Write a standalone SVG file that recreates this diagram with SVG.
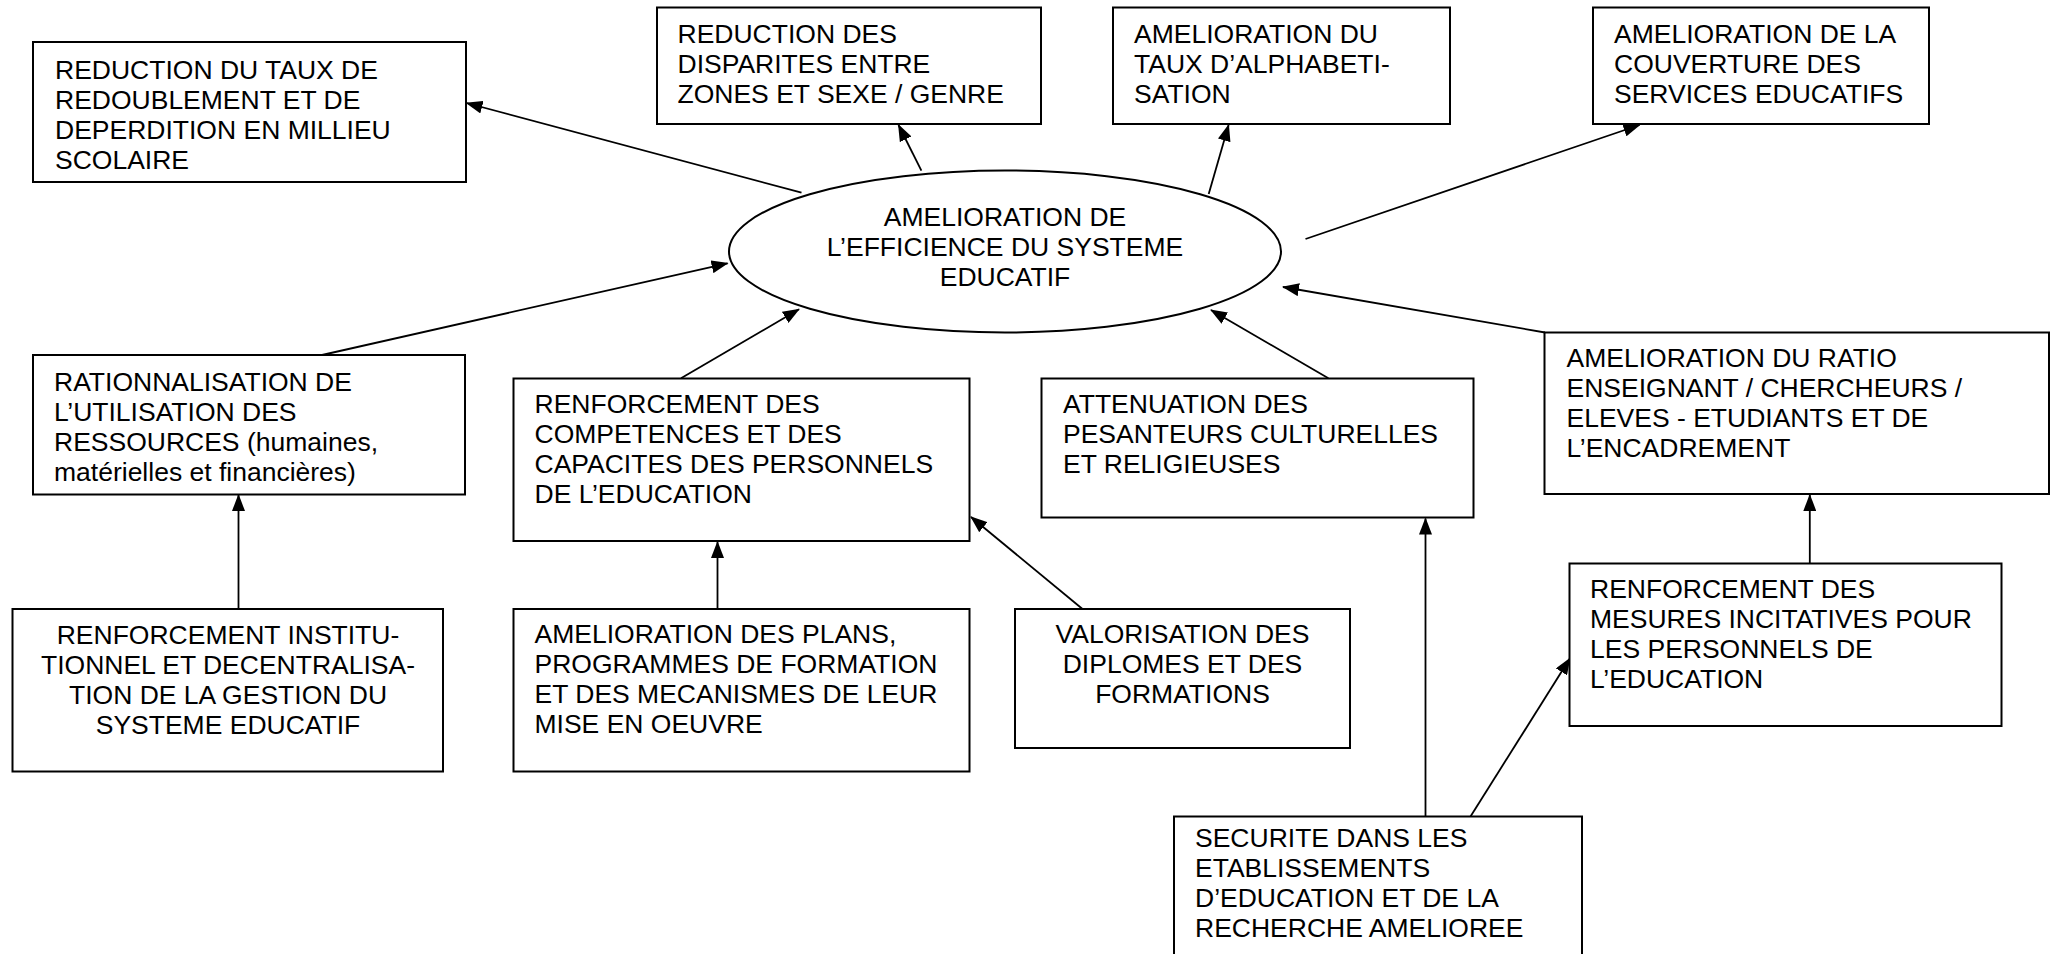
<svg xmlns="http://www.w3.org/2000/svg" width="2055" height="954" viewBox="0 0 2055 954">
<style>
.box{fill:#fff;stroke:#000;stroke-width:2}
.t{font-family:"Liberation Sans",Arial,sans-serif;font-size:26.5px;fill:#000}
.c{text-anchor:middle}
.ln{stroke:#000;stroke-width:1.8;fill:none;marker-end:url(#ah)}
</style>
<defs>
<marker id="ah" markerUnits="userSpaceOnUse" markerWidth="17" markerHeight="13" viewBox="0 0 17 13" refX="16" refY="6.5" orient="auto">
<path d="M0,0 L17,6.5 L0,13 z" fill="#000"/>
</marker>
</defs>
<rect width="2055" height="954" fill="#fff"/>
<g id="connectors">
<line class="ln" x1="801.5" y1="192.7" x2="466.5" y2="103"/>
<line class="ln" x1="921.4" y1="170.7" x2="898.5" y2="125"/>
<line class="ln" x1="1208.7" y1="194" x2="1228.6" y2="125"/>
<line class="ln" x1="1305.5" y1="239" x2="1639.5" y2="125"/>
<line class="ln" x1="1545" y1="332.5" x2="1283" y2="287"/>
<line class="ln" x1="1328.4" y1="378.3" x2="1211" y2="310"/>
<line class="ln" x1="681" y1="378.3" x2="799" y2="309.3"/>
<line class="ln" x1="322" y1="355" x2="727.6" y2="263.3"/>
<line class="ln" x1="238.5" y1="609" x2="238.5" y2="495"/>
<line class="ln" x1="717.5" y1="609" x2="717.5" y2="542"/>
<line class="ln" x1="1082.5" y1="609" x2="971" y2="517"/>
<line class="ln" x1="1425.5" y1="816.5" x2="1425.5" y2="518.5"/>
<line class="ln" x1="1470.5" y1="816.5" x2="1570" y2="658.3"/>
<line class="ln" x1="1809.8" y1="563.5" x2="1809.8" y2="495"/>
</g>
<g id="center">
<ellipse class="box" cx="1005" cy="251.5" rx="276" ry="81"/>
<text class="t c" x="1005" y="225.7">AMELIORATION DE</text>
<text class="t c" x="1005" y="255.7">L’EFFICIENCE DU SYSTEME</text>
<text class="t c" x="1005" y="285.7">EDUCATIF</text>
</g>
<g id="nodeA">
<rect class="box" x="33" y="42" width="433" height="140"/>
<text class="t" x="55" y="79.3">REDUCTION DU TAUX DE</text>
<text class="t" x="55" y="109.3">REDOUBLEMENT ET DE</text>
<text class="t" x="55" y="139.3">DEPERDITION EN MILLIEU</text>
<text class="t" x="55" y="169.3">SCOLAIRE</text>
</g>
<g id="nodeB">
<rect class="box" x="657" y="7.5" width="384" height="116.5"/>
<text class="t" x="677.5" y="42.7">REDUCTION DES</text>
<text class="t" x="677.5" y="72.7">DISPARITES ENTRE</text>
<text class="t" x="677.5" y="102.7">ZONES ET SEXE / GENRE</text>
</g>
<g id="nodeC">
<rect class="box" x="1113" y="7.5" width="337" height="116.5"/>
<text class="t" x="1134" y="42.7">AMELIORATION DU</text>
<text class="t" x="1134" y="72.7">TAUX D’ALPHABETI-</text>
<text class="t" x="1134" y="102.7">SATION</text>
</g>
<g id="nodeD">
<rect class="box" x="1593" y="7.5" width="336" height="116.5"/>
<text class="t" x="1614" y="42.7">AMELIORATION DE LA</text>
<text class="t" x="1614" y="72.7">COUVERTURE DES</text>
<text class="t" x="1614" y="102.7">SERVICES EDUCATIFS</text>
</g>
<g id="nodeE">
<rect class="box" x="1544.5" y="332.5" width="504.5" height="161.5"/>
<text class="t" x="1566.5" y="367">AMELIORATION DU RATIO</text>
<text class="t" x="1566.5" y="397">ENSEIGNANT / CHERCHEURS /</text>
<text class="t" x="1566.5" y="427">ELEVES - ETUDIANTS ET DE</text>
<text class="t" x="1566.5" y="457">L’ENCADREMENT</text>
</g>
<g id="nodeF">
<rect class="box" x="1041.5" y="378.5" width="432" height="139"/>
<text class="t" x="1063" y="413.3">ATTENUATION DES</text>
<text class="t" x="1063" y="443.3">PESANTEURS CULTURELLES</text>
<text class="t" x="1063" y="473.3">ET RELIGIEUSES</text>
</g>
<g id="nodeG">
<rect class="box" x="1015" y="609" width="335" height="139"/>
<text class="t c" x="1182.5" y="643.3">VALORISATION DES</text>
<text class="t c" x="1182.5" y="673.3">DIPLOMES ET DES</text>
<text class="t c" x="1182.5" y="703.3">FORMATIONS</text>
</g>
<g id="nodeH">
<rect class="box" x="1569.5" y="563.5" width="432" height="162.5"/>
<text class="t" x="1590" y="598.3">RENFORCEMENT DES</text>
<text class="t" x="1590" y="628.3">MESURES INCITATIVES POUR</text>
<text class="t" x="1590" y="658.3">LES PERSONNELS DE</text>
<text class="t" x="1590" y="688.3">L’EDUCATION</text>
</g>
<g id="nodeI">
<rect class="box" x="1174" y="816.5" width="408" height="200"/>
<text class="t" x="1195" y="847">SECURITE DANS LES</text>
<text class="t" x="1195" y="877">ETABLISSEMENTS</text>
<text class="t" x="1195" y="907">D’EDUCATION ET DE LA</text>
<text class="t" x="1195" y="937">RECHERCHE AMELIOREE</text>
</g>
<g id="nodeJ">
<rect class="box" x="33" y="355" width="432" height="139.5"/>
<text class="t" x="54" y="390.7">RATIONNALISATION DE</text>
<text class="t" x="54" y="420.7">L’UTILISATION DES</text>
<text class="t" x="54" y="450.7">RESSOURCES (humaines,</text>
<text class="t" x="54" y="480.7">matérielles et financières)</text>
</g>
<g id="nodeK">
<rect class="box" x="513.5" y="378.5" width="456" height="162.5"/>
<text class="t" x="534.5" y="413.3">RENFORCEMENT DES</text>
<text class="t" x="534.5" y="443.3">COMPETENCES ET DES</text>
<text class="t" x="534.5" y="473.3">CAPACITES DES PERSONNELS</text>
<text class="t" x="534.5" y="503.3">DE L’EDUCATION</text>
</g>
<g id="nodeL">
<rect class="box" x="12.5" y="609" width="430.5" height="162.5"/>
<text class="t c" x="228" y="644">RENFORCEMENT INSTITU-</text>
<text class="t c" x="228" y="674">TIONNEL ET DECENTRALISA-</text>
<text class="t c" x="228" y="704">TION DE LA GESTION DU</text>
<text class="t c" x="228" y="734">SYSTEME EDUCATIF</text>
</g>
<g id="nodeM">
<rect class="box" x="513.5" y="609" width="456" height="162.5"/>
<text class="t" x="534.5" y="643.3">AMELIORATION DES PLANS,</text>
<text class="t" x="534.5" y="673.3">PROGRAMMES DE FORMATION</text>
<text class="t" x="534.5" y="703.3">ET DES MECANISMES DE LEUR</text>
<text class="t" x="534.5" y="733.3">MISE EN OEUVRE</text>
</g>
</svg>
